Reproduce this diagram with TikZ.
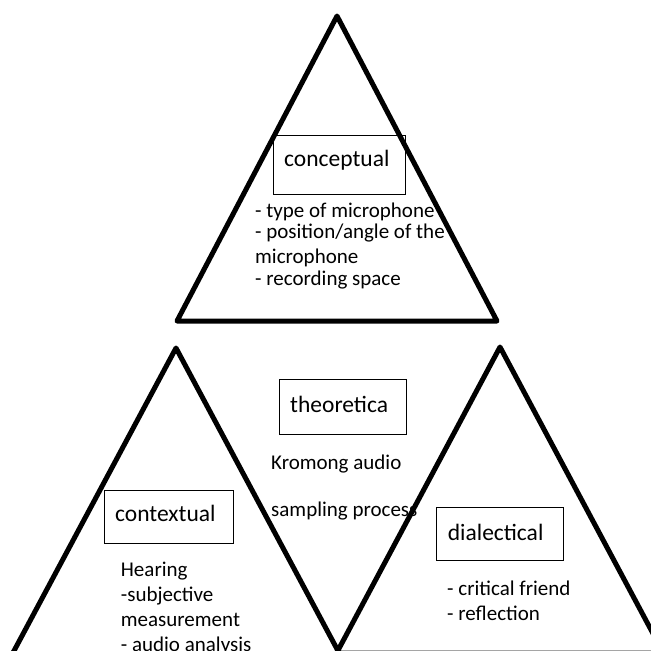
\documentclass[tikz,border=0pt]{standalone}
\usepackage{fontspec}
\setmainfont{Carlito}
\begin{document}
\begin{tikzpicture}[x=1pt,y=-1pt,
  tri/.style={draw=black,line width=5pt,line join=round},
  labelbox/.style={draw=black,line width=1.1pt,inner sep=0pt,anchor=north west},
  lbl/.style={font=\fontsize{23.5}{28}\selectfont,inner sep=0pt,anchor=base west},
  body/.style={font=\fontsize{21}{25}\selectfont,inner sep=0pt,anchor=base west}]
\useasboundingbox (0,0) rectangle (651,651);
\fill[white] (0,0) rectangle (651,651);
\clip (0,0) rectangle (651,651);

% boxes and labels
\node[labelbox,minimum width=132pt,minimum height=59pt] (concbox) at (273,135) {};
\node[lbl] (conclbl) at (284,166) {conceptual};
\node[labelbox,minimum width=127pt,minimum height=55pt] (theobox) at (279,379) {};
\node[lbl] (theolbl) at (290,412.7) {theoretica};
\node[labelbox,minimum width=129pt,minimum height=53pt] (contbox) at (104,490) {};
\node[lbl] (contlbl) at (115,521.7) {contextual};
\node[labelbox,minimum width=127pt,minimum height=53pt] (dialbox) at (436,507) {};
\node[lbl] (diallbl) at (447.7,540.7) {dialectical};

% body texts
\node[body] (c1) at (255,217) {- type of microphone};
\node[body] (c2) at (255,238) {- position/angle of the};
\node[body] (c3) at (255,263) {microphone};
\node[body] (c4) at (255,285) {- recording space};

\node[body] (t1) at (271,469) {Kromong audio};
\node[body] (t2) at (271,516.7) {sampling process};

\node[body] (x1) at (120.7,576.7) {Hearing};
\node[body] (x2) at (120.7,601.7) {-subjective};
\node[body] (x3) at (120.7,626.7) {measurement};
\node[body] (x4) at (120.7,651.7) {- audio analysis};

\node[body] (d1) at (447,595) {- critical friend};
\node[body] (d2) at (447,620) {- reflection};

% triangles
\coordinate (TA) at (337,16);
\coordinate (TL) at (177,321);
\coordinate (TR) at (497,321);
\draw[tri] (TA) -- (TL) -- (TR) -- cycle;

\coordinate (LA) at (176,348);
\coordinate (LL) at (10.7,657);
\coordinate (LR) at (341.3,657);
\draw[tri] (LA) -- (LL) -- (LR) -- cycle;

\coordinate (RA) at (500,347);
\coordinate (RL) at (336.6,653);
\coordinate (RR) at (663.4,653);
\draw[tri] (RA) -- (RL) -- (RR) -- cycle;
\end{tikzpicture}
\end{document}
